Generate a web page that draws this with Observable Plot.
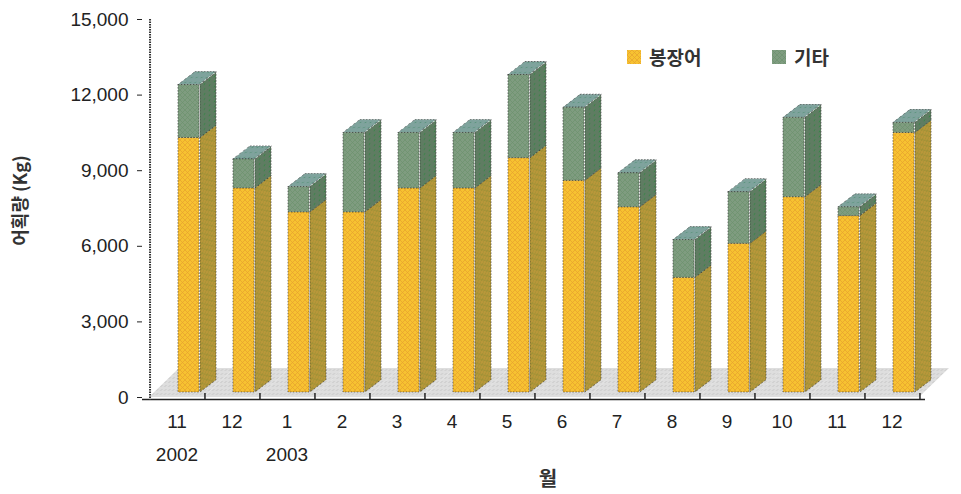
<!DOCTYPE html>
<html><head><meta charset="utf-8">
<script src="https://cdn.jsdelivr.net/npm/d3@7"></script>
<script src="https://cdn.jsdelivr.net/npm/@observablehq/plot@0.6"></script>
<style>
body{margin:0;background:#fff;}
#wrap{position:relative;width:961px;height:494px;overflow:hidden;}
rect[fill="url(#ys)"], rect[fill="url(#gs)"], [fill="url(#ys)"] rect, [fill="url(#gs)"] rect{transform-box:fill-box;transform-origin:left bottom;transform:skewY(-37.4deg);}
rect[fill="url(#gt)"], [fill="url(#gt)"] rect{transform-box:fill-box;transform-origin:left bottom;transform:skewX(-52.6deg);}
rect[fill="url(#fl)"], [fill="url(#fl)"] rect{transform-box:fill-box;transform-origin:left bottom;transform:skewX(-46deg);}
.leg{position:absolute;top:43px;font-family:"Noto Sans CJK KR",sans-serif;font-size:19px;font-weight:700;color:#333;display:flex;align-items:center;}
.sw{width:14px;height:14px;margin-right:8px;display:inline-block;}
</style>
</head><body>
<svg width="0" height="0" style="position:absolute">
<defs>
<pattern id="yf" width="5" height="5" patternUnits="userSpaceOnUse">
<rect width="5" height="5" fill="#f7c231"/>
<path d="M0 0L5 5M5 0L0 5" stroke="#d8862c" stroke-width="0.7" opacity="0.55"/>
</pattern>
<pattern id="ys" width="5" height="5" patternUnits="userSpaceOnUse">
<rect width="5" height="5" fill="#b9973a"/>
<path d="M0 0L5 5M5 0L0 5" stroke="#7f8a30" stroke-width="0.7" opacity="0.6"/>
</pattern>
<pattern id="gf" width="5" height="5" patternUnits="userSpaceOnUse">
<rect width="5" height="5" fill="#7f9c80"/>
<path d="M0 0L5 5M5 0L0 5" stroke="#5f8a62" stroke-width="0.7" opacity="0.6"/>
</pattern>
<pattern id="gs" width="5" height="5" patternUnits="userSpaceOnUse">
<rect width="5" height="5" fill="#5f7c62"/>
<circle cx="2.5" cy="2.5" r="0.8" fill="#2c8a3e" opacity="0.8"/>
</pattern>
<pattern id="gt" width="5" height="5" patternUnits="userSpaceOnUse">
<rect width="5" height="5" fill="#7fa39d"/>
<circle cx="2.5" cy="2.5" r="0.8" fill="#4f8f72" opacity="0.7"/>
</pattern>
<pattern id="fl" width="4" height="4" patternUnits="userSpaceOnUse">
<rect width="4" height="4" fill="#dedede"/>
<circle cx="2" cy="2" r="0.7" fill="#bdbdbd"/>
</pattern>
</defs>
</svg>
<div id="wrap"></div>
<script>
// ---- data ----
const periods = ["2002-11","2002-12","2003-01","2003-02","2003-03","2003-04","2003-05","2003-06","2003-07","2003-08","2003-09","2003-10","2003-11","2003-12"];
const monthLabels = ["11","12","1","2","3","4","5","6","7","8","9","10","11","12"];
const yearLabels = ["2002","","2003","","","","","","","","","","",""];
const seriesNames = ["봉장어","기타"];
const conger = [10100, 8100, 7150, 7150, 8100, 8100, 9300, 8400, 7350, 4550, 5900, 7750, 7000, 10300];
const others = [2100, 1150, 1000, 3150, 2200, 2200, 3300, 2900, 1350, 1500, 2050, 3150, 350, 400];
const yTicks = [0, 3000, 6000, 9000, 12000, 15000];
const yTitle = "어획량 (Kg)";
const xTitle = "월";

// ---- build tables ----
const rows = [
  ...periods.map((p, i) => ({period: p, series: seriesNames[0], value: conger[i]})),
  ...periods.map((p, i) => ({period: p, series: seriesNames[1], value: others[i]}))
];
const totals = periods.map((p, i) => ({period: p, total: conger[i] + others[i]}));

const W = 961, H = 494, mL = 142, mR = 36, mT = 19, mB = 97;
const bw = (W - mL - mR) / periods.length;
const FACE = 22, DX = 17, LIFT = 5;
const frontFill = {[seriesNames[0]]: "url(#yf)", [seriesNames[1]]: "url(#gf)"};
const sideFill = {[seriesNames[0]]: "url(#ys)", [seriesNames[1]]: "url(#gs)"};
const front = {insetLeft: bw / 2 + 1, insetRight: bw / 2 - 1 - FACE};
const side = {insetLeft: bw / 2 + 1, insetRight: bw / 2 - 1 - DX, dx: FACE};
const edge = {stroke: "#2a2a2a", strokeWidth: 0.8, strokeDasharray: "1.5,1.5", strokeOpacity: 0.7};

const chart = Plot.plot({
  width: W, height: H,
  marginLeft: mL, marginRight: mR, marginTop: mT, marginBottom: mB,
  style: {fontFamily: "'Liberation Sans', Arial, sans-serif", fontSize: "19px", color: "#222", background: "white"},
  x: {domain: periods, padding: 0, axis: null},
  y: {domain: [0, 15000], ticks: yTicks, tickFormat: d3.format(","), tickSize: 5, tickPadding: 9, label: null, axis: "left"},
  color: {type: "identity"},
  marks: [
    Plot.barY(periods, {x: d => d, y1: 0, y2: 0, insetTop: -29, fill: "url(#fl)"}),
    Plot.barY(rows, {x: "period", y: "value", fill: d => sideFill[d.series], dy: -LIFT, ...side, ...edge}),
    Plot.barY(totals, {x: "period", y1: "total", y2: "total", insetTop: -13, dy: -LIFT, ...front, fill: "url(#gt)", ...edge}),
    Plot.barY(rows, {x: "period", y: "value", fill: d => frontFill[d.series], dy: -LIFT, ...front, ...edge}),
    Plot.ruleY([0], {dy: 2, stroke: "#222", strokeWidth: 1.5}),
    Plot.ruleX([periods[0]], {x: d => d, dx: -bw / 2 + 1, insetBottom: -3, stroke: "#333", strokeWidth: 2, strokeDasharray: "1.5,1"}),
    Plot.ruleX(periods, {x: d => d, dx: bw / 2, y1: 0, y2: 0, insetTop: -6, dy: 2, stroke: "#222", strokeWidth: 1.5}),
    Plot.text(periods, {x: d => d, text: (d, i) => monthLabels[i], frameAnchor: "bottom", dy: 30, fontSize: 19, fill: "#222"}),
    Plot.text(periods, {x: d => d, text: (d, i) => yearLabels[i], frameAnchor: "bottom", dy: 63, fontSize: 19, fill: "#222"}),
    Plot.text([xTitle], {text: d => d, frameAnchor: "bottom", dx: 14, dy: 88, fontSize: 20, fontFamily: "Noto Sans CJK KR", fontWeight: 700, fill: "#333"}),
    Plot.text([yTitle], {text: d => d, frameAnchor: "left", textAnchor: "middle", dx: -121, dy: -8, rotate: -90, fontSize: 18, fontFamily: "Noto Sans CJK KR", fontWeight: 700, fill: "#333"})
  ]
});
const wrap = document.getElementById("wrap");
wrap.appendChild(chart);

// legend
const legendItems = [
  {name: seriesNames[0], fill: "url(#yf)", left: 627},
  {name: seriesNames[1], fill: "url(#gf)", left: 772}
];
for (const it of legendItems) {
  const d = document.createElement("div");
  d.className = "leg";
  d.style.left = it.left + "px";
  d.innerHTML = `<svg class="sw" width="14" height="14"><rect width="14" height="14" fill="${it.fill}"/></svg><span>${it.name}</span>`;
  wrap.appendChild(d);
}
</script>
</body></html>
